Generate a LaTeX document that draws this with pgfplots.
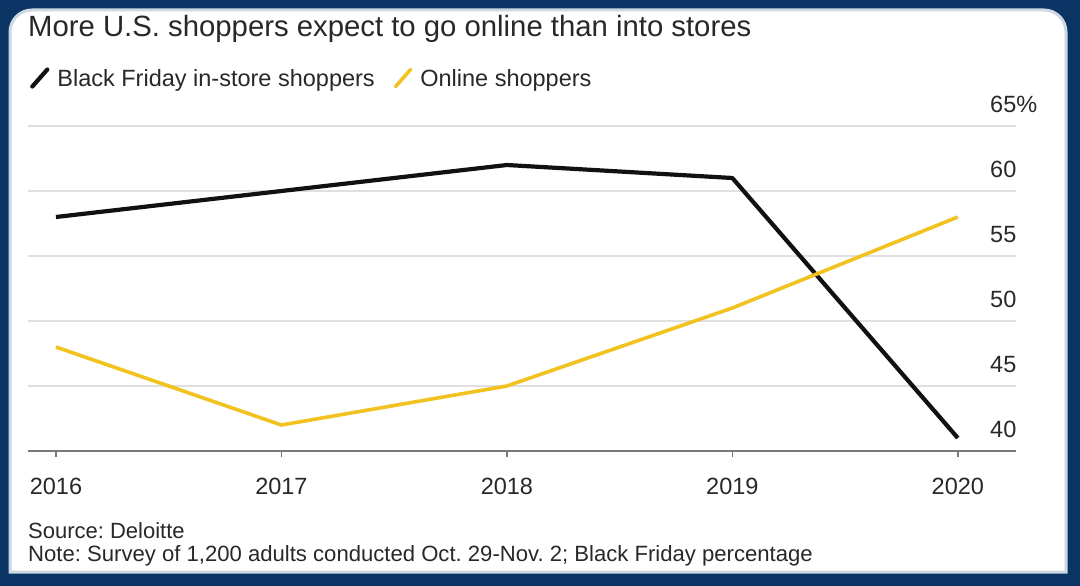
\documentclass[border=0pt]{standalone}
\usepackage{fontspec}
\setmainfont{Liberation Sans}
\usepackage{pgfplots}
\pgfplotsset{compat=1.18}
\definecolor{frame}{RGB}{10,52,100}
\definecolor{edge}{RGB}{205,216,228}
\definecolor{bfblack}{RGB}{17,17,17}
\definecolor{onyellow}{RGB}{242,194,32}
\definecolor{txt}{RGB}{40,40,40}
\definecolor{gridc}{RGB}{224,224,224}
\definecolor{axc}{RGB}{120,120,120}
\frenchspacing

\begin{document}
\begin{tikzpicture}[x=1pt,y=1pt]
% background frame and panel
\fill[frame] (0,0) rectangle (1080,-586);
\filldraw[fill=white, draw=edge, line width=3pt] (10,-572) [rounded corners=22pt] -- (10,-10) -- (1066,-10) [sharp corners] -- (1066,-572) -- cycle;

\begin{axis}[
  at={(28pt,-451pt)}, anchor=south west,
  scale only axis, width=988pt, height=325pt,
  xmin=2015.876, xmax=2020.258, ymin=40, ymax=65,
  axis x line*=bottom, axis y line*=right,
  x axis line style={draw=axc, line width=1.6pt, -},
  y axis line style={draw=none},
  xtick={2016,2017,2018,2019,2020},
  xticklabels={2016,2017,2018,2019,2020},
  ytick={40,45,50,55,60,65},
  yticklabels={40,45,50,55,60,65\%},
  ymajorgrids, grid style={draw=gridc, line width=1.6pt},
  tick align=outside, major tick length=6pt,
  xtick style={draw=axc, line width=1.4pt},
  ytick style={draw=none},
  xticklabel style={font=\fontsize{23.5}{28}\selectfont, text=txt, anchor=base, inner sep=0pt, yshift=-37pt},
  yticklabel style={font=\fontsize{23.5}{28}\selectfont, text=txt, anchor=base west, inner sep=0pt, xshift=-32pt, yshift=14pt},
  clip=false,
  legend columns=2,
  legend cell align=left,
  legend image code/.code={\draw[#1, line cap=round] (0pt,-8pt) -- (15pt,9pt);},
  legend style={at={(axis description cs:0,1)}, anchor=south west, yshift=36pt, xshift=2pt,
    draw=none, fill=none, inner sep=0pt,
    font=\fontsize{23.5}{28}\selectfont, text=txt,
    /tikz/every odd column/.append style={column sep=6pt},
    /tikz/every even column/.append style={column sep=17pt}},
]
\addplot[bfblack, line width=4.2pt, line join=round] coordinates {
  (2016,58) (2017,60) (2018,62) (2019,61) (2020,41)};
\addlegendentry{Black Friday in-store shoppers}
\addplot[onyellow, line width=3.6pt, line join=round] coordinates {
  (2016,48) (2017,42) (2018,45) (2019,51) (2020,58)};
\addlegendentry{Online shoppers}
\end{axis}

% title and notes
\node[anchor=base west, inner sep=0pt, text=txt, font=\fontsize{29.3}{34}\selectfont] at (28,-37)
  {More U.S. shoppers expect to go online than into stores};
\node[anchor=base west, inner sep=0pt, text=txt, font=\fontsize{22}{26}\selectfont] at (28,-538)
  {Source: Deloitte};
\node[anchor=base west, inner sep=0pt, text=txt, font=\fontsize{22.1}{26}\selectfont] at (28,-561)
  {Note: Survey of 1,200 adults conducted Oct. 29-Nov. 2; Black Friday percentage};
\end{tikzpicture}
\end{document}
